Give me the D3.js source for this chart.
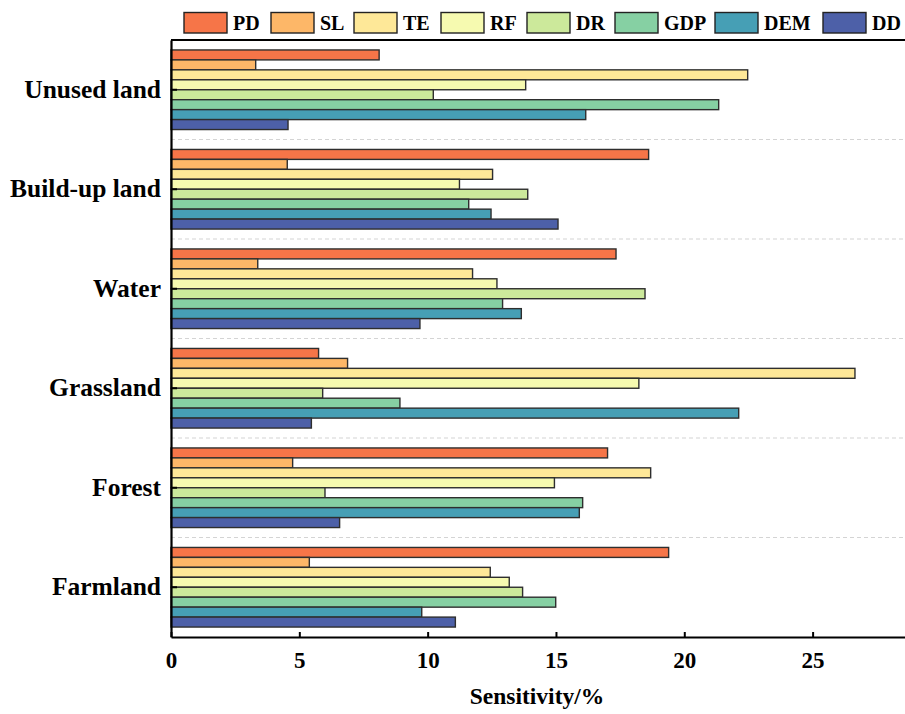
<!DOCTYPE html>
<html><head><meta charset="utf-8">
<script src="https://cdn.jsdelivr.net/npm/d3@7"></script>
<style>body{margin:0;background:#fff}svg{display:block}text{font-family:"Liberation Serif","Times New Roman",serif;font-weight:bold}</style>
</head><body><svg id="c" width="905" height="714"></svg>
<script>
const categories = ["Unused land","Build-up land","Water","Grassland","Forest","Farmland"];
const series = ["PD","SL","TE","RF","DR","GDP","DEM","DD"];
const colors = ["#f67548","#fdb768","#fee898","#f6fab0","#cce99b","#86d0a3","#469fb5","#4d60a8"];
const PD  = [8.11, 18.61, 17.34, 5.75, 17.01, 19.39];
const SL  = [3.30, 4.53, 3.38, 6.88, 4.74, 5.39];
const TE  = [22.47, 12.53, 11.75, 26.65, 18.69, 12.44];
const RF  = [13.82, 11.24, 12.70, 18.23, 14.94, 13.18];
const DR  = [10.22, 13.90, 18.47, 5.91, 6.00, 13.70];
const GDP = [21.34, 11.60, 12.92, 8.92, 16.04, 14.99];
const DEM = [16.16, 12.47, 13.65, 22.12, 15.91, 9.77];
const DD  = [4.56, 15.08, 9.70, 5.47, 6.57, 11.08];
const xTicks = [0,5,10,15,20,25];
const values = {PD,SL,TE,RF,DR,GDP,DEM,DD};

const svg = d3.select("#c");
const L = 171, R = 905, T = 40, B = 637;
const x = d3.scaleLinear().domain([0, 28.6]).range([L, R]);
const y = d3.scaleBand().domain(categories).range([T, B]);
const yi = d3.scaleBand().domain(series).range([0, y.bandwidth()]).paddingOuter(1);

// separators
svg.append("g").selectAll("line").data(categories.slice(1)).join("line")
  .attr("x1", L).attr("x2", R).attr("y1", d => y(d)).attr("y2", d => y(d))
  .attr("stroke", "#d4d4d4").attr("stroke-width", 1.2).attr("stroke-dasharray", "4,3");

// bars
const g = svg.append("g");
categories.forEach((c, ci) => {
  series.forEach((s, si) => {
    g.append("rect")
      .attr("x", x(0)).attr("y", y(c) + yi(s))
      .attr("width", x(values[s][ci]) - x(0)).attr("height", yi.bandwidth())
      .attr("fill", colors[si]).attr("stroke", "#2e2e2e").attr("stroke-width", 1.4);
  });
});

// axes
const xa = svg.append("g").attr("transform", `translate(0,${B})`)
  .call(d3.axisBottom(x).tickValues(xTicks).tickSizeInner(-5).tickSizeOuter(0).tickPadding(15));
xa.select(".domain").attr("stroke", "#000").attr("stroke-width", 2.2);
xa.selectAll(".tick line").attr("stroke", "#000").attr("stroke-width", 2);
xa.selectAll(".tick text").attr("font-size", 23).attr("fill", "#000");

const ya = svg.append("g").attr("transform", `translate(${L},0)`)
  .call(d3.axisLeft(y).tickSizeInner(-6).tickSizeOuter(0).tickPadding(10));
ya.select(".domain").attr("stroke", "#000").attr("stroke-width", 2.2);
ya.selectAll(".tick line").attr("stroke", "#000").attr("stroke-width", 2);
ya.selectAll(".tick text").attr("font-size", 25.5).attr("fill", "#000");

// top border
svg.append("line").attr("x1", L).attr("x2", R).attr("y1", T).attr("y2", T)
  .attr("stroke", "#000").attr("stroke-width", 2.2);

// axis title
svg.append("text").attr("x", 537).attr("y", 704).attr("text-anchor", "middle")
  .attr("font-size", 23.5).text("Sensitivity/%");

// legend
const legX = [184, 271, 354, 441, 527, 615, 715, 823];
const lg = svg.append("g");
series.forEach((s, i) => {
  lg.append("rect").attr("x", legX[i]).attr("y", 12.5).attr("width", 43).attr("height", 20.5)
    .attr("fill", colors[i]).attr("stroke", "#222").attr("stroke-width", 1.4);
  lg.append("text").attr("x", legX[i] + 49).attr("y", 30).attr("font-size", 20).text(s);
});
</script></body></html>
